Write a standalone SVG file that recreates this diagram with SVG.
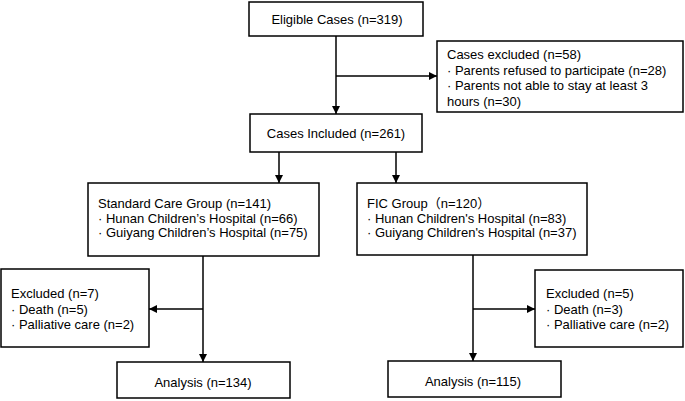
<svg xmlns="http://www.w3.org/2000/svg" width="685" height="401" viewBox="0 0 685 401">
<defs>
<style>
.box{fill:#fff;stroke:#000;stroke-width:1.5}
.t{font-family:"Liberation Sans","Noto Sans CJK SC",Arial,sans-serif;font-size:13px;fill:#000}
.c{text-anchor:middle}
.ln{stroke:#000;stroke-width:1.5;fill:none}
</style>
<marker id="ah" viewBox="0 0 10 10" refX="10" refY="5" markerWidth="8" markerHeight="8" markerUnits="userSpaceOnUse" orient="auto">
<path d="M0,0 L10,5 L0,10 z" fill="#000"/>
</marker>
</defs>
<rect width="685" height="401" fill="#fff"/>
<g id="connectors">
<line class="ln" x1="336" y1="36" x2="336" y2="114" marker-end="url(#ah)"/>
<line class="ln" x1="336" y1="76" x2="437" y2="76" marker-end="url(#ah)"/>
<line class="ln" x1="279" y1="152" x2="279" y2="183" marker-end="url(#ah)"/>
<line class="ln" x1="396" y1="152" x2="396" y2="183" marker-end="url(#ah)"/>
<line class="ln" x1="203" y1="256" x2="203" y2="362" marker-end="url(#ah)"/>
<line class="ln" x1="203" y1="309" x2="149" y2="309" marker-end="url(#ah)"/>
<line class="ln" x1="473" y1="255" x2="473" y2="361" marker-end="url(#ah)"/>
<line class="ln" x1="473" y1="309" x2="535" y2="309" marker-end="url(#ah)"/>
</g>
<g id="eligible">
<rect class="box" x="249" y="2" width="174" height="34"/>
<text class="t c" x="337" y="24">Eligible Cases (n=319)</text>
</g>
<g id="excluded-top">
<rect class="box" x="437" y="41" width="246" height="71"/>
<text class="t" x="447" y="58.5">Cases excluded (n=58)</text>
<text class="t" x="447" y="74.5">· Parents refused to participate (n=28)</text>
<text class="t" x="447" y="90">· Parents not able to stay at least 3</text>
<text class="t" x="447" y="105.5">hours (n=30)</text>
</g>
<g id="included">
<rect class="box" x="250" y="114" width="172" height="38"/>
<text class="t c" x="336" y="137.5">Cases Included (n=261)</text>
</g>
<g id="standard">
<rect class="box" x="88" y="183" width="231" height="73"/>
<text class="t" x="98" y="208">Standard Care Group (n=141)</text>
<text class="t" x="98" y="222.5">· Hunan Children’s Hospital (n=66)</text>
<text class="t" x="98" y="237">· Guiyang Children’s Hospital (n=75)</text>
</g>
<g id="fic">
<rect class="box" x="357" y="183" width="230" height="72"/>
<text class="t" x="367" y="208">FIC Group（n=120）</text>
<text class="t" x="367" y="222.5">· Hunan Children's Hospital (n=83)</text>
<text class="t" x="367" y="237">· Guiyang Children's Hospital (n=37)</text>
</g>
<g id="excluded-left">
<rect class="box" x="1" y="269" width="148" height="78"/>
<text class="t" x="11" y="298">Excluded (n=7)</text>
<text class="t" x="11" y="313.5">· Death (n=5)</text>
<text class="t" x="11" y="329">· Palliative care (n=2)</text>
</g>
<g id="excluded-right">
<rect class="box" x="535" y="270" width="148" height="77"/>
<text class="t" x="546" y="298">Excluded (n=5)</text>
<text class="t" x="546" y="313.5">· Death (n=3)</text>
<text class="t" x="546" y="329">· Palliative care (n=2)</text>
</g>
<g id="analysis-left">
<rect class="box" x="117" y="362" width="173" height="36"/>
<text class="t c" x="203" y="386.5">Analysis (n=134)</text>
</g>
<g id="analysis-right">
<rect class="box" x="388" y="361" width="173" height="36"/>
<text class="t c" x="473" y="385.5">Analysis (n=115)</text>
</g>
</svg>
